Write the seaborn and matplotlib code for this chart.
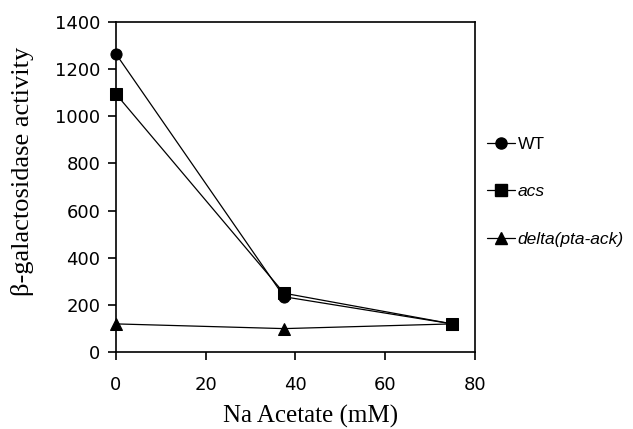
import pandas as pd
import matplotlib.pyplot as plt
import seaborn as sns

# values
acetate = [0, 37.5, 75]
wt = [1265, 235, 120]
acs = [1095, 250, 120]
pta_ack = [120, 100, 120]
strains = ["WT", "acs", "delta(pta-ack)"]

df = pd.DataFrame({
    "acetate": acetate * 3,
    "activity": wt + acs + pta_ack,
    "strain": [s for s in strains for _ in acetate],
})

sns.set_style("ticks")
plt.rcParams["font.family"] = ["DejaVu Sans"]
# plain black text and axes like the original figure
for key in ["text.color", "axes.labelcolor", "xtick.color", "ytick.color", "axes.edgecolor"]:
    plt.rcParams[key] = "black"

fig = plt.figure(figsize=(6.33, 4.29), dpi=100)
ax = fig.add_axes([0.183, 0.179, 0.567, 0.770])

sns.lineplot(data=df, x="acetate", y="activity", hue="strain", style="strain",
             markers={"WT": "o", "acs": "s", "delta(pta-ack)": "^"},
             dashes=False, palette=["black"] * 3, markersize=8,
             linewidth=0.9, markeredgecolor="black", ax=ax, legend=False)

ax.set_xlim(0, 80)
ax.set_ylim(0, 1400)
ax.set_xticks([0, 20, 40, 60, 80])
ax.set_yticks(range(0, 1401, 200))
for s in ax.spines.values():
    s.set_visible(True)
    s.set_linewidth(1.2)
ax.tick_params(direction="out", length=6, width=1.2, labelsize=13)
ax.tick_params(axis="x", pad=11)
ax.tick_params(axis="y", pad=5)
ax.set_xlabel("Na Acetate (mM)", fontsize=18, family="Liberation Serif")
ax.set_ylabel("β-galactosidase activity", fontsize=19, family="Liberation Serif")
ax.xaxis.set_label_coords(0.543, -0.16)
ax.yaxis.set_label_coords(-0.228, 0.548)
for line in ax.lines:
    line.set_clip_on(False)

handles = [plt.Line2D([], [], color="black", marker=m, markersize=8, linewidth=0.9)
           for m in ["o", "s", "^"]]
leg = fig.legend(handles, strains, loc="upper left", bbox_to_anchor=(0.745, 0.717),
                 frameon=False, handlelength=1.6, handletextpad=0.15,
                 labelspacing=1.85, prop={"family": "Liberation Sans", "size": 12.5})
for t in leg.get_texts()[1:]:
    t.set_style("italic")

fig.savefig("out.png", dpi=100)
